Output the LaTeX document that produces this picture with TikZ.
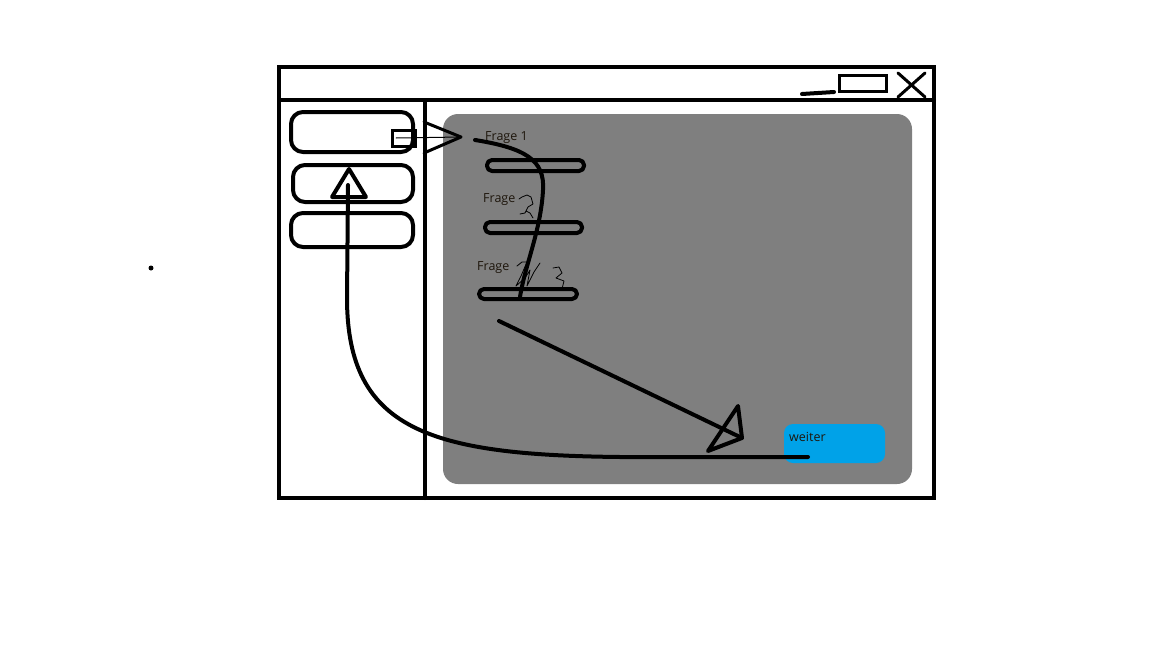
\documentclass[tikz,border=0pt]{standalone}
\usepackage{fontspec}
\setmainfont{Open Sans}
\definecolor{panelgray}{RGB}{127,127,127}
\definecolor{paintblue}{RGB}{0,162,232}
\definecolor{labelink}{RGB}{30,22,12}
\begin{document}
\begin{tikzpicture}[x=1pt, y=-1pt, line join=round, line cap=round, font=\fontsize{12.5}{14}\selectfont,
	pen/.style={line width=4pt},
	thinpen/.style={line width=0.8pt},
	lbl/.style={anchor=west, inner sep=0pt, text=labelink}]
	\useasboundingbox (0,0) rectangle (1152,648);
	% window
	\draw[pen, line cap=butt, line join=miter] (279,67) rectangle (934,498);
	\draw[pen] (279,100) -- (934,100);
	\draw[pen] (425,100) -- (425,498);
	\draw[pen] (802,94) -- (834,92);
	\draw[line width=3pt, line join=miter] (839,75) rectangle (886,91);
	\draw[line width=3pt] (898,73) -- (925,97) (925,73) -- (898,97);
	% panel
	\fill[panelgray, rounded corners=15pt] (443,114) rectangle (912,484);
	% sidebar
	\draw[pen, rounded corners=12pt] (291,112) rectangle (413,152);
	\draw[pen, rounded corners=12pt] (293,165) rectangle (413,202);
	\draw[pen, rounded corners=12pt] (291,213) rectangle (413,247);
	% questions
	\node[lbl] (frage1) at (485,138) {Frage 1};
	\node[lbl] (frage2) at (483,200) {Frage};
	\node[lbl] (frage3) at (477,268) {Frage};
	\draw[pen, rounded corners=5pt] (487,160) rectangle (584,171);
	\draw[pen, rounded corners=5pt] (485,222) rectangle (582,233);
	\draw[pen, rounded corners=5pt] (479,289) rectangle (577,299);
	\draw[thinpen] (519,199) -- (522,197) -- (527,195) -- (531,197) -- (533,204) -- (528,207) -- (525,213) -- (520,214) (526,211) -- (530,213) -- (533,218);
	\draw[thinpen] (517,266) -- (522,262) -- (527,262) -- (521,276) -- (516,286) -- (525,278) -- (530,270) -- (527,286) -- (534,272) -- (540,263);
	\draw[thinpen] (553,268) -- (559,267) -- (562,273) -- (556,278) -- (564,281) -- (562,289) -- (555,288);
	% weiter
	\fill[paintblue, rounded corners=9pt] (784,424) rectangle (885,463);
	\node[lbl] (weiter) at (789,437) {weiter};
	% arrows
	\coordinate (tail) at (392,130);
	\coordinate (tip) at (461,137);
	\draw[line width=3pt, line join=miter] (tail) rectangle (415,146);
	\draw[line width=1pt] (396,138) -- (tip);
	\draw[line width=3pt] (424,122) -- (tip) -- (424,153);
	\fill (476,140) circle (2pt);
	\draw[pen] (475,140) .. controls (525,148) and (545,160) .. (543,190)
		.. controls (541,230) and (525,265) .. (520,297);
	\coordinate (down) at (499,321);
	\coordinate (downtip) at (742,438);
	\draw[pen] (down) -- (downtip);
	\draw[pen] (738,406) -- (708,451) -- (downtip) -- cycle;
	\coordinate (back) at (808,457);
	\coordinate (up) at (348,185);
	\draw[pen] (back) -- (620,457) .. controls (430,455) and (348,430) .. (347,300) -- (up);
	\draw[pen] (349,169) -- (332,197) -- (366,197) -- cycle;
	\fill (151,268) circle (2.5pt);
\end{tikzpicture}
\end{document}
